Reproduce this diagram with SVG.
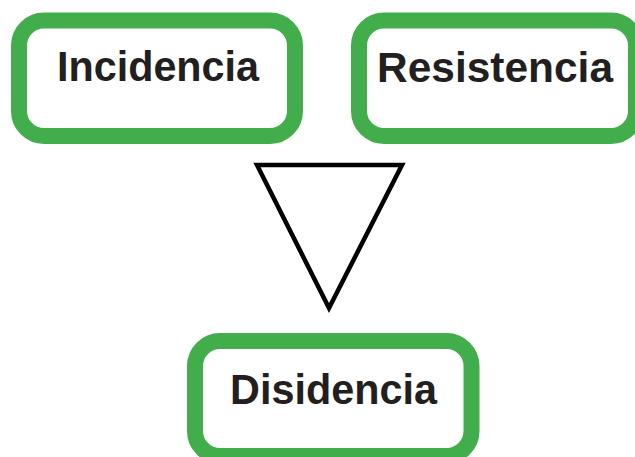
<svg xmlns="http://www.w3.org/2000/svg" width="635" height="457" viewBox="0 0 635 457">
<style>
.box{fill:#fff;stroke:#41ae4b;stroke-width:16}
.lbl{font-family:"Liberation Sans",Arial,sans-serif;font-weight:bold;font-size:43px;fill:#231f20}
</style>
<rect width="635" height="457" fill="#fff"/>
<g id="incidencia">
<rect class="box" x="19" y="20.5" width="276" height="115.5" rx="25"/>
<text class="lbl" x="57" y="81" textLength="202" lengthAdjust="spacingAndGlyphs">Incidencia</text>
</g>
<g id="resistencia">
<rect class="box" x="359" y="20.5" width="277" height="115.5" rx="25"/>
<text class="lbl" x="377" y="82" textLength="236" lengthAdjust="spacingAndGlyphs">Resistencia</text>
</g>
<g id="connectors">
<polygon points="257,165 402,165 329,308" fill="none" stroke="#000" stroke-width="4.5" stroke-linejoin="miter"/>
</g>
<g id="disidencia">
<rect class="box" x="195" y="341" width="276.5" height="115" rx="25"/>
<text class="lbl" x="230" y="404" textLength="207" lengthAdjust="spacingAndGlyphs">Disidencia</text>
</g>
</svg>
